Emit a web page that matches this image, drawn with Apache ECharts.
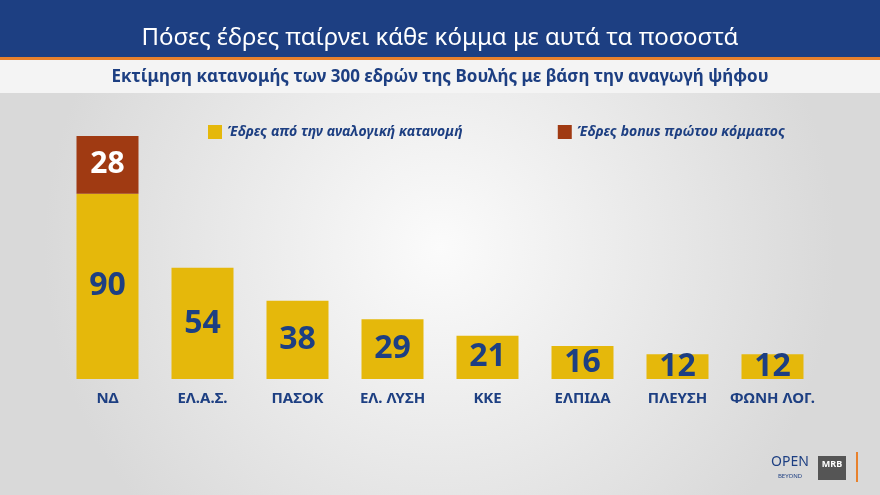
<!DOCTYPE html><html><head><meta charset="utf-8"><script src="https://cdn.jsdelivr.net/npm/echarts@6/dist/echarts.min.js"></script>
<style>html,body{margin:0;padding:0}#c{width:880px;height:495px}</style></head><body><div id="c"></div><script>
const categories=['ΝΔ','ΕΛ.Α.Σ.','ΠΑΣΟΚ','ΕΛ. ΛΥΣΗ','ΚΚΕ','ΕΛΠΙΔΑ','ΠΛΕΥΣΗ','ΦΩΝΗ ΛΟΓ.'];
const proportional=[90,54,38,29,21,16,12,12];
const bonus=[28,null,null,null,null,null,null,null];
const c=echarts.init(document.getElementById('c'));
c.setOption({
backgroundColor:{type:'radial',x:0.5,y:0.5,r:0.8,colorStops:[{offset:0,color:'#fbfbfb'},{offset:1,color:'#d9d9d9'}]},
graphic:[
{type:'rect',shape:{x:0,y:0,width:880,height:57},style:{fill:'#1d3f82'}},
{type:'rect',shape:{x:0,y:57,width:880,height:3},style:{fill:'#e8812c'}},
{type:'rect',shape:{x:0,y:60,width:880,height:33},style:{fill:'#f4f4f4'}},
{type:'text',x:440,y:38,style:{text:'Πόσες έδρες παίρνει κάθε κόμμα με αυτά τα ποσοστά',fill:'#fff',font:'24px "Noto Sans"',align:'center',verticalAlign:'middle'}},
{type:'text',x:440,y:77,style:{text:'Εκτίμηση κατανομής των 300 εδρών της Βουλής με βάση την αναγωγή ψήφου',fill:'#1d3f82',font:'bold 17px "Noto Sans"',align:'center',verticalAlign:'middle'}},
{type:'text',x:790,y:462,style:{text:'OPEN',fill:'#1d3f82',font:'14px "Noto Sans"',align:'center',verticalAlign:'middle'}},
{type:'text',x:790,y:476,style:{text:'BEYOND',fill:'#1d3f82',font:'6px "Noto Sans"',align:'center',verticalAlign:'middle'}},
{type:'rect',shape:{x:818,y:456,width:28,height:24},style:{fill:'#555'}},
{type:'text',x:832,y:464,style:{text:'MRB',fill:'#fff',font:'bold 9px "Noto Sans"',align:'center',verticalAlign:'middle'}},
{type:'rect',shape:{x:856,y:452,width:2,height:30},style:{fill:'#e8812c'}}
],
legend:{top:120,left:203,itemGap:95,itemWidth:14,itemHeight:14,icon:'rect',textStyle:{color:'#1d3f82',fontWeight:'bold',fontStyle:'italic',fontSize:14,fontFamily:'Noto Sans'},data:['Έδρες από την αναλογική κατανομή','Έδρες bonus πρώτου κόμματος']},
grid:{left:60,right:60,top:136,bottom:116},
xAxis:{type:'category',data:categories,axisLine:{show:false},axisTick:{show:false},axisLabel:{interval:0,color:'#1d3f82',fontWeight:'bold',fontSize:15,fontFamily:'Noto Sans',margin:12}},
yAxis:{type:'value',min:0,max:118,show:false,splitLine:{show:false}},
series:[
{name:'Έδρες από την αναλογική κατανομή',type:'bar',stack:'s',data:proportional,barWidth:62,itemStyle:{color:'#e5b80b'},label:{show:true,position:'inside',color:'#1d3f82',fontWeight:'bold',fontSize:32,fontFamily:'Noto Sans'}},
{name:'Έδρες bonus πρώτου κόμματος',type:'bar',stack:'s',data:bonus,barWidth:62,itemStyle:{color:'#a03a12'},label:{show:true,position:'inside',color:'#fff',fontWeight:'bold',fontSize:30,fontFamily:'Noto Sans'}}
]});
</script></body></html>
